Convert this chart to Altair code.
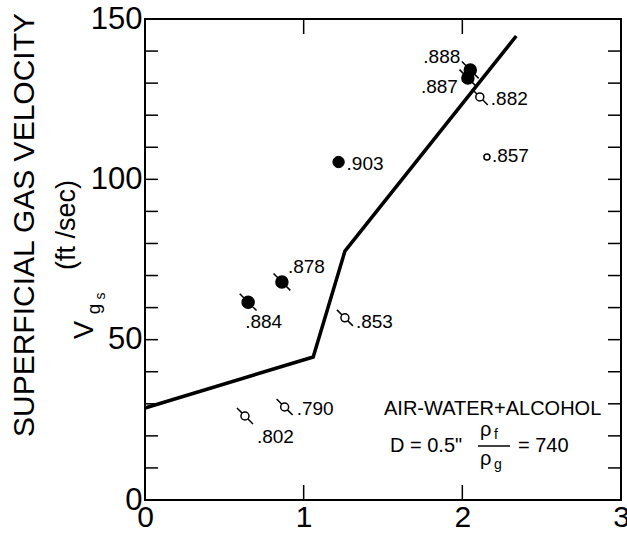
import altair as alt
import pandas as pd

# ---------------- data ----------------
pt_x = [2.05, 2.035, 2.11, 2.155, 1.22, 0.863, 0.65, 1.26, 0.88, 0.63]
pt_y = [134.1, 131.6, 125.7, 107.0, 105.4, 68.0, 61.7, 56.8, 29.0, 26.2]
pt_label = [".888", ".887", ".882", ".857", ".903", ".878", ".884", ".853", ".790", ".802"]
pt_filled = [True, True, False, False, True, True, True, False, False, False]
pt_flag = [True, True, True, False, False, True, True, True, True, True]

curve_x = [0.0, 1.06, 1.26, 2.34]
curve_y = [28.7, 44.6, 77.6, 144.7]

x_tick_values = [0, 1, 2, 3]
y_tick_values = [0, 50, 100, 150]
y_minor_ticks = [10, 20, 30, 40, 50, 60, 70, 80, 90, 100, 110, 120, 130, 140]
x_minor_ticks = [1, 2]

title_line1 = "SUPERFICIAL GAS VELOCITY"
title_line2 = "(ft /sec)"
title_v, title_g, title_s = "V", "g", "s"
note_line1 = "AIR-WATER+ALCOHOL"
note_d = "D = 0.5\""
note_rho = "ρ"
note_f = "f"
note_g = "g"
note_eq = "= 740"

W, H = 476, 481
FONT = "Liberation Sans"

pts = pd.DataFrame({"x": pt_x, "y": pt_y, "label": pt_label,
                    "filled": pt_filled, "flag": pt_flag})
curve = pd.DataFrame({"x": curve_x, "y": curve_y})

xs = alt.Scale(domain=[0, 3], nice=False, zero=False)
ys = alt.Scale(domain=[0, 150], nice=False, zero=False)

base = alt.Chart(pts)

line = alt.Chart(curve).mark_line(color="black", strokeWidth=3.5).encode(
    x=alt.X("x:Q", scale=xs, axis=alt.Axis(values=x_tick_values, title=None, ticks=False,
                                           domain=False, grid=False, labelFontSize=30,
                                           labelFont=FONT, labelColor="black",
                                           labelPadding=2, labelFlush=False, format="d")),
    y=alt.Y("y:Q", scale=ys, axis=alt.Axis(values=y_tick_values, title=None, ticks=False,
                                           domain=False, grid=False, labelFontSize=31,
                                           labelFont=FONT, labelColor="black",
                                           labelPadding=3, format="d")),
)

CIRCLE = "M1,0A1,1,0,1,1,-1,0A1,1,0,1,1,1,0Z"
FILLED_FLAG = CIRCLE + " M-1.4,-1.4L1.4,1.4"
OPEN_FLAG = CIRCLE + " M-2,-2L-0.71,-0.71 M0.71,0.71L2,2"

enc = dict(x=alt.X("x:Q", scale=xs), y=alt.Y("y:Q", scale=ys))

filled_flag = base.transform_filter("datum.filled && datum.flag").mark_point(
    shape=FILLED_FLAG, filled=True, fill="black", stroke="black", strokeWidth=1.5,
    size=144, opacity=1).encode(**enc)
filled_plain = base.transform_filter("datum.filled && !datum.flag").mark_point(
    shape="circle", filled=True, fill="black", stroke="black", strokeWidth=1,
    size=130, opacity=1).encode(**enc)
open_flag = base.transform_filter("!datum.filled && datum.flag").mark_point(
    shape=OPEN_FLAG, filled=False, stroke="black", strokeWidth=1.5, fillOpacity=0,
    size=64, opacity=1).encode(**enc)
open_plain = base.transform_filter("!datum.filled && !datum.flag").mark_point(
    shape="circle", filled=False, stroke="black", strokeWidth=1.5, size=36,
    opacity=1).encode(**enc)

label_offsets = {
    ".888": (-10, -7, "right"), ".887": (-10, 15, "right"), ".882": (11, 8, "left"),
    ".857": (5, 5, "left"), ".903": (8, 8, "left"), ".878": (6, -9, "left"),
    ".884": (-3, 26, "left"), ".853": (11, 10, "left"), ".790": (12, 8, "left"),
    ".802": (12, 27, "left"),
}
label_layers = []
for lbl, (dx, dy, al) in label_offsets.items():
    label_layers.append(
        base.transform_filter(alt.datum.label == lbl).mark_text(
            dx=dx, dy=dy, align=al, baseline="alphabetic", fontSize=19, font=FONT,
            color="black").encode(text="label:N", **enc))

# ticks (inward)
ytick_df = pd.DataFrame({"y": y_minor_ticks})
xtick_df = pd.DataFrame({"x": x_minor_ticks})
tick_style = dict(color="black", strokeWidth=1.5)
ytl = alt.Chart(ytick_df).mark_rule(**tick_style).encode(
    y=alt.Y("y:Q", scale=ys), x=alt.value(0), x2=alt.value(13))
ytr = alt.Chart(ytick_df).mark_rule(**tick_style).encode(
    y=alt.Y("y:Q", scale=ys), x=alt.value(W - 13), x2=alt.value(W))
xtb = alt.Chart(xtick_df).mark_rule(**tick_style).encode(
    x=alt.X("x:Q", scale=xs), y=alt.value(H - 15), y2=alt.value(H))
xtt = alt.Chart(xtick_df).mark_rule(**tick_style).encode(
    x=alt.X("x:Q", scale=xs), y=alt.value(0), y2=alt.value(15))


def txt(text, x, y, size, align="left", baseline="alphabetic", angle=0):
    kw = dict(align=align, baseline=baseline, fontSize=size, font=FONT, color="black")
    if angle:
        kw["angle"] = angle
    return alt.Chart(alt.Data(values=[{"t": text}])).mark_text(**kw).encode(
        text="t:N", x=alt.value(x), y=alt.value(y))


annos = [
    txt(title_line1, -111, 206, 30, align="center", angle=270),
    txt(title_line2, -70, 206, 27, align="center", angle=270),
    txt(title_v, -52, 311, 27, align="center", angle=270),
    txt(title_g, -45, 290, 19, align="center", angle=270),
    txt(title_s, -40, 277, 14, align="center", angle=270),
    txt(note_line1, 239, 396, 20),
    txt(note_d, 245, 433, 20),
    txt(note_rho, 335, 417, 20),
    txt(note_f, 349, 420, 14),
    txt(note_rho, 335, 446, 20),
    txt(note_g, 349, 450, 14),
    txt(note_eq, 373, 433, 20),
    alt.Chart(alt.Data(values=[{"a": 1}])).mark_rule(color="black", strokeWidth=1.5).encode(
        x=alt.value(333), x2=alt.value(365), y=alt.value(427)),
]

chart = alt.layer(line, ytl, ytr, xtb, xtt, filled_flag, filled_plain, open_flag,
                  open_plain, *label_layers, *annos).properties(
    width=W, height=H,
    padding={"left": 145, "top": 19, "right": 6, "bottom": 36},
    autosize=alt.AutoSizeParams(type="none"),
    background="white",
).configure_view(stroke="black", strokeWidth=2)

chart.save("out.html", embed_options={"renderer": "svg", "actions": False})
